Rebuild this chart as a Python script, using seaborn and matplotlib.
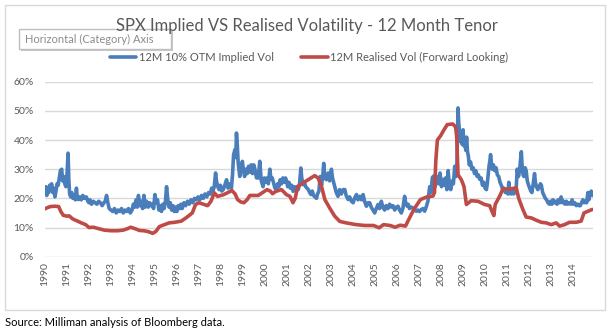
import matplotlib
matplotlib.use("Agg")
import matplotlib.pyplot as plt
import matplotlib.patches as mpatches
from matplotlib.lines import Line2D
import seaborn as sns
import pandas as pd

# ---------------- data ----------------
TITLE = "SPX Implied VS Realised Volatility - 12 Month Tenor"
implied_name = "12M 10% OTM Implied Vol"
realised_name = "12M Realised Vol (Forward Looking)"
year_ticks = list(range(1990, 2015))

implied_t = [
    1990.00, 1990.04, 1990.08, 1990.12, 1990.17, 1990.21, 1990.25, 1990.30, 1990.35, 1990.40,
    1990.45, 1990.50, 1990.55, 1990.60, 1990.65, 1990.70, 1990.76, 1990.80, 1990.85, 1990.90,
    1990.95, 1991.00, 1991.05, 1991.08, 1991.12, 1991.17, 1991.22, 1991.27, 1991.33, 1991.38,
    1991.43, 1991.47, 1991.52, 1991.58, 1991.65, 1991.72, 1991.80, 1991.88, 1991.95, 1992.00,
    1992.05, 1992.12, 1992.20, 1992.28, 1992.36, 1992.44, 1992.52, 1992.60, 1992.68, 1992.74,
    1992.80, 1992.86, 1992.92, 1993.00, 1993.08, 1993.16, 1993.24, 1993.32, 1993.40, 1993.48,
    1993.56, 1993.64, 1993.72, 1993.80, 1993.88, 1993.96, 1994.02, 1994.08, 1994.14, 1994.20,
    1994.25, 1994.32, 1994.38, 1994.44, 1994.50, 1994.56, 1994.62, 1994.70, 1994.76, 1994.82,
    1994.88, 1994.94, 1995.00, 1995.06, 1995.12, 1995.18, 1995.24, 1995.30, 1995.36, 1995.42,
    1995.48, 1995.53, 1995.58, 1995.64, 1995.70, 1995.76, 1995.82, 1995.88, 1995.94, 1996.00,
    1996.06, 1996.12, 1996.18, 1996.24, 1996.32, 1996.40, 1996.48, 1996.56, 1996.64, 1996.72,
    1996.80, 1996.88, 1996.96, 1997.04, 1997.12, 1997.20, 1997.28, 1997.36, 1997.44, 1997.52,
    1997.58, 1997.64, 1997.70, 1997.76, 1997.80, 1997.86, 1997.92, 1997.98, 1998.04, 1998.11,
    1998.18, 1998.26, 1998.33, 1998.41, 1998.48, 1998.53, 1998.58, 1998.64, 1998.68, 1998.71,
    1998.75, 1998.79, 1998.86, 1998.92, 1998.98, 1999.02, 1999.08, 1999.14, 1999.20, 1999.26,
    1999.32, 1999.38, 1999.44, 1999.50, 1999.55, 1999.62, 1999.70, 1999.77, 1999.84, 1999.92,
    1999.98, 2000.04, 2000.10, 2000.16, 2000.23, 2000.28, 2000.34, 2000.40, 2000.46, 2000.53,
    2000.58, 2000.64, 2000.70, 2000.76, 2000.82, 2000.88, 2000.94, 2000.99, 2001.04, 2001.10,
    2001.16, 2001.22, 2001.29, 2001.34, 2001.40, 2001.46, 2001.52, 2001.58, 2001.64, 2001.68,
    2001.74, 2001.80, 2001.86, 2001.92, 2001.98, 2002.04, 2002.10, 2002.16, 2002.22, 2002.28,
    2002.35, 2002.40, 2002.46, 2002.52, 2002.58, 2002.64, 2002.68, 2002.73, 2002.80, 2002.88,
    2002.95, 2003.03, 2003.08, 2003.13, 2003.18, 2003.25, 2003.33, 2003.40, 2003.48, 2003.56,
    2003.64, 2003.70, 2003.79, 2003.86, 2003.94, 2004.02, 2004.08, 2004.17, 2004.24, 2004.32,
    2004.40, 2004.47, 2004.54, 2004.62, 2004.70, 2004.77, 2004.84, 2004.92, 2005.00, 2005.07,
    2005.15, 2005.22, 2005.30, 2005.37, 2005.45, 2005.52, 2005.60, 2005.68, 2005.75, 2005.83,
    2005.91, 2005.98, 2006.06, 2006.13, 2006.21, 2006.28, 2006.36, 2006.42, 2006.48, 2006.52,
    2006.58, 2006.66, 2006.74, 2006.82, 2006.89, 2006.96, 2007.04, 2007.12, 2007.20, 2007.27,
    2007.34, 2007.42, 2007.50, 2007.56, 2007.62, 2007.67, 2007.74, 2007.80, 2007.86, 2007.92,
    2007.97, 2008.04, 2008.10, 2008.16, 2008.22, 2008.28, 2008.34, 2008.40, 2008.46, 2008.52,
    2008.58, 2008.64, 2008.70, 2008.74, 2008.77, 2008.79, 2008.82, 2008.86, 2008.90, 2008.94,
    2008.98, 2009.02, 2009.06, 2009.10, 2009.14, 2009.18, 2009.22, 2009.26, 2009.30, 2009.36,
    2009.42, 2009.48, 2009.54, 2009.60, 2009.66, 2009.72, 2009.78, 2009.84, 2009.90, 2009.96,
    2010.02, 2010.08, 2010.12, 2010.16, 2010.20, 2010.24, 2010.27, 2010.31, 2010.35, 2010.40,
    2010.46, 2010.52, 2010.58, 2010.64, 2010.70, 2010.76, 2010.82, 2010.88, 2010.94, 2011.00,
    2011.06, 2011.10, 2011.14, 2011.20, 2011.26, 2011.32, 2011.38, 2011.44, 2011.48, 2011.54,
    2011.59, 2011.63, 2011.67, 2011.71, 2011.75, 2011.79, 2011.84, 2011.89, 2011.94, 2012.00,
    2012.05, 2012.10, 2012.15, 2012.21, 2012.27, 2012.31, 2012.36, 2012.42, 2012.48, 2012.54,
    2012.58, 2012.64, 2012.70, 2012.76, 2012.82, 2012.88, 2012.95, 2013.00, 2013.06, 2013.11,
    2013.17, 2013.23, 2013.29, 2013.35, 2013.41, 2013.48, 2013.54, 2013.60, 2013.66, 2013.72,
    2013.78, 2013.86, 2013.92, 2013.98, 2014.04, 2014.10, 2014.17, 2014.23, 2014.29, 2014.35,
    2014.41, 2014.47, 2014.53, 2014.59, 2014.64, 2014.70, 2014.74, 2014.79, 2014.85, 2014.90,
]
implied_vol = [
    22.0, 24.0, 21.0, 23.5, 22.0, 24.5, 23.0, 25.0, 22.0, 23.5,
    20.5, 22.5, 25.0, 24.5, 27.0, 29.5, 30.0, 26.0, 27.5, 25.0,
    24.0, 28.0, 35.5, 27.0, 21.5, 20.5, 22.0, 20.0, 21.0, 19.5,
    23.5, 20.0, 19.6, 20.5, 19.5, 21.0, 20.0, 20.5, 19.0, 18.5,
    19.5, 18.0, 19.0, 18.5, 18.0, 19.0, 18.5, 17.5, 18.5, 19.0,
    21.0, 18.5, 16.5, 16.0, 15.5, 16.5, 15.0, 16.0, 15.5, 16.5,
    15.0, 16.0, 15.5, 16.5, 15.0, 16.0, 18.0, 17.0, 19.5, 17.0,
    21.0, 17.5, 19.0, 16.5, 21.0, 17.0, 19.0, 17.0, 18.5, 17.5,
    18.0, 16.5, 21.3, 18.5, 19.5, 16.0, 17.5, 15.5, 18.0, 16.5,
    19.0, 24.0, 20.0, 17.0, 18.5, 16.0, 17.5, 15.5, 17.0, 15.5,
    17.5, 16.5, 18.0, 16.5, 18.5, 17.5, 19.0, 18.0, 19.5, 18.5,
    20.0, 19.5, 20.5, 19.5, 21.0, 20.0, 21.5, 20.5, 22.0, 21.5,
    23.5, 22.5, 24.0, 28.7, 26.0, 24.0, 23.0, 24.5, 22.5, 23.0,
    24.5, 26.4, 23.5, 25.0, 23.5, 28.0, 35.0, 36.7, 34.0, 42.4,
    38.0, 32.0, 27.5, 30.5, 32.7, 30.0, 27.5, 30.0, 28.5, 31.0,
    29.0, 31.5, 28.5, 31.5, 30.0, 27.0, 27.0, 32.7, 26.0, 24.0,
    27.0, 25.5, 27.0, 25.0, 30.0, 26.5, 27.0, 25.3, 23.5, 23.0,
    25.0, 24.0, 26.4, 25.0, 27.0, 25.5, 27.0, 26.0, 24.0, 25.5,
    23.5, 24.5, 22.4, 24.0, 23.0, 24.0, 23.0, 25.0, 30.4, 27.0,
    24.7, 25.5, 24.0, 23.5, 23.0, 22.0, 21.3, 22.5, 21.0, 20.5,
    20.0, 21.5, 22.5, 27.5, 24.5, 28.0, 32.0, 27.0, 26.4, 28.7,
    26.0, 30.0, 27.0, 25.5, 24.0, 22.0, 20.7, 23.0, 21.5, 23.0,
    23.0, 21.0, 19.6, 20.5, 19.0, 18.5, 20.0, 21.3, 19.5, 20.7,
    19.5, 21.3, 19.0, 17.3, 18.5, 18.5, 17.0, 16.0, 15.0, 16.5,
    17.9, 16.5, 19.0, 17.0, 16.0, 17.5, 16.5, 18.0, 17.0, 17.5,
    16.0, 17.0, 17.3, 16.0, 15.0, 16.5, 20.7, 18.0, 17.3, 18.0,
    16.5, 17.0, 16.7, 16.0, 15.6, 16.0, 15.5, 16.2, 16.5, 15.6,
    17.0, 19.0, 24.0, 22.0, 27.0, 27.6, 24.0, 25.3, 27.5, 25.0,
    28.7, 24.0, 26.5, 24.5, 27.0, 23.0, 29.5, 24.0, 23.0, 26.0,
    25.0, 31.0, 27.5, 32.0, 44.0, 51.0, 46.0, 43.0, 39.5, 42.0,
    38.5, 43.5, 38.0, 40.0, 36.5, 41.0, 36.0, 34.5, 31.5, 32.5,
    30.0, 30.5, 28.5, 29.5, 27.5, 28.0, 26.5, 27.0, 24.5, 25.5,
    23.5, 23.0, 25.0, 28.0, 31.0, 33.0, 35.0, 32.0, 30.0, 31.5,
    29.5, 30.5, 28.0, 27.5, 25.5, 24.5, 23.0, 23.5, 22.0, 22.5,
    21.5, 25.5, 22.0, 21.5, 22.5, 21.5, 22.0, 24.0, 30.0, 27.5,
    29.5, 33.0, 36.0, 30.5, 28.0, 27.5, 30.5, 29.5, 26.0, 24.5,
    23.5, 22.5, 22.0, 25.0, 28.5, 25.5, 24.0, 23.0, 24.0, 25.0,
    24.5, 22.0, 21.0, 20.0, 19.5, 18.5, 18.0, 19.0, 18.0, 19.5,
    18.5, 19.0, 18.0, 19.5, 18.5, 20.5, 18.5, 19.0, 18.0, 19.0,
    18.0, 18.5, 18.0, 19.5, 18.0, 18.5, 17.5, 18.0, 17.5, 17.5,
    18.5, 19.5, 18.5, 19.0, 18.5, 22.0, 19.5, 21.5, 22.5, 21.0,
]

realised_t = [
    1990.00, 1990.10, 1990.25, 1990.45, 1990.62, 1990.72, 1990.83, 1991.00, 1991.10, 1991.25,
    1991.45, 1991.65, 1991.85, 1992.00, 1992.20, 1992.45, 1992.70, 1993.00, 1993.30, 1993.55,
    1993.75, 1993.90, 1994.10, 1994.30, 1994.50, 1994.70, 1994.90, 1995.05, 1995.20, 1995.40,
    1995.65, 1995.90, 1996.20, 1996.45, 1996.70, 1996.78, 1996.85, 1997.00, 1997.20, 1997.40,
    1997.55, 1997.70, 1997.85, 1998.10, 1998.30, 1998.50, 1998.65, 1998.76, 1998.90, 1999.05,
    1999.20, 1999.32, 1999.70, 1999.92, 2000.10, 2000.25, 2000.35, 2000.50, 2000.76, 2000.98,
    2001.14, 2001.22, 2001.28, 2001.38, 2001.50, 2001.74, 2001.97, 2002.10, 2002.27, 2002.42,
    2002.58, 2002.73, 2002.95, 2003.18, 2003.41, 2003.70, 2004.15, 2004.55, 2004.95, 2005.20,
    2005.40, 2005.70, 2005.93, 2006.15, 2006.40, 2006.55, 2006.78, 2007.08, 2007.38, 2007.65,
    2007.72, 2007.78, 2007.85, 2008.00, 2008.15, 2008.30, 2008.55, 2008.68, 2008.73, 2008.79,
    2008.94, 2009.06, 2009.17, 2009.39, 2009.70, 2010.00, 2010.23, 2010.33, 2010.42, 2010.48,
    2010.68, 2010.83, 2011.14, 2011.44, 2011.55, 2011.74, 2011.89, 2012.12, 2012.35, 2012.58,
    2012.80, 2013.03, 2013.26, 2013.41, 2013.64, 2013.86, 2014.17, 2014.39, 2014.52, 2014.70,
    2014.90,
]
realised_vol = [
    16.4, 16.8, 17.2, 17.3, 17.2, 15.5, 14.2, 13.9, 14.0, 13.0,
    12.3, 11.6, 11.0, 10.0, 10.1, 9.6, 9.1, 8.9, 8.9, 9.1,
    9.6, 10.1, 9.6, 9.0, 8.9, 8.6, 8.0, 8.7, 10.3, 10.9,
    11.6, 11.8, 12.2, 13.5, 15.0, 16.5, 17.9, 18.5, 18.0, 17.5,
    19.0, 21.9, 20.7, 21.2, 21.9, 22.7, 21.5, 19.6, 18.8, 18.5,
    19.6, 21.0, 21.0, 22.1, 23.0, 22.5, 21.6, 22.4, 23.0, 21.3,
    20.7, 19.5, 18.5, 20.0, 24.1, 25.3, 26.4, 27.0, 27.8, 27.0,
    24.1, 19.6, 16.7, 13.9, 12.1, 11.6, 11.0, 10.7, 10.7, 9.9,
    11.0, 10.7, 10.1, 10.8, 10.5, 12.8, 16.2, 19.6, 20.5, 20.8,
    22.0, 33.0, 40.0, 41.5, 43.5, 45.3, 45.5, 44.5, 41.0, 28.1,
    26.4, 24.1, 17.9, 19.2, 19.0, 17.9, 17.5, 15.6, 14.1, 17.9,
    20.7, 23.2, 23.2, 23.6, 20.0, 16.2, 13.6, 13.3, 12.5, 11.8,
    11.6, 11.0, 11.6, 10.5, 11.0, 11.8, 11.8, 12.2, 15.0, 15.6,
    16.2,
]

# ---------------- build long table ----------------
df = pd.concat([
    pd.DataFrame({"year": implied_t, "vol": implied_vol, "series": implied_name}),
    pd.DataFrame({"year": realised_t, "vol": realised_vol, "series": realised_name}),
], ignore_index=True)

BLUE = "#4A7EBB"
RED = "#BE4B48"
GRID = "#D9D9D9"
TXT = "#595959"
FONT = ["Lato", "DejaVu Sans"]

sns.set_theme(style="white")
plt.rcParams["font.family"] = FONT

W, H = 611, 330
fig = plt.figure(figsize=(W / 100, H / 100), dpi=100)

# axes in pixel terms
x0, x1 = 45, 593
y_top, y_bot = 81.7, 256.7
ax = fig.add_axes([x0 / W, 1 - y_bot / H, (x1 - x0) / W, (y_bot - y_top) / H])

sns.lineplot(data=df, x="year", y="vol", hue="series",
             palette={implied_name: BLUE, realised_name: RED},
             estimator=None, sort=False, linewidth=2.6, ax=ax, legend=False)

ax.set_xlim(1990, 2014.93)
ax.set_ylim(0, 60)
ax.set_yticks([0, 10, 20, 30, 40, 50, 60])
ax.set_yticklabels([f"{v}%" for v in [0, 10, 20, 30, 40, 50, 60]])
ax.set_xticks(year_ticks)
ax.set_xticklabels([str(y) for y in year_ticks], rotation=90)
ax.set_xlabel("")
ax.set_ylabel("")
ax.grid(axis="y", color=GRID, linewidth=1)
ax.grid(axis="x", visible=False)
ax.set_axisbelow(True)
for s in ["left", "right", "top", "bottom"]:
    ax.spines[s].set_visible(False)
ax.tick_params(axis="y", length=0, pad=8, labelsize=7.5, labelcolor=TXT)
ax.tick_params(axis="x", length=0, pad=4, labelsize=7.5, labelcolor=TXT)

# chart border
fig.patches.append(mpatches.Rectangle((5 / W, 1 - 310 / H), 600 / W, 305 / H,
                                      transform=fig.transFigure, fill=False,
                                      edgecolor=GRID, linewidth=1))

# title
fig.text(307 / W, 1 - 26 / H, TITLE, ha="center", va="center",
         fontsize=12.0, color=TXT)

# legend
handles = [Line2D([], [], color=BLUE, linewidth=2.6),
           Line2D([], [], color=RED, linewidth=2.6)]
fig.legend(handles, [implied_name, realised_name], loc="center",
           bbox_to_anchor=(309 / W, 1 - 57 / H), ncol=2, frameon=False,
           fontsize=8, handlelength=2.4, handletextpad=0.2,
           columnspacing=2.5, labelcolor=TXT)

# tooltip box "Horizontal (Category) Axis"
fig.patches.append(mpatches.Rectangle((21 / W, 1 - 51 / H), 152 / W, 20 / H,
                                      transform=fig.transFigure,
                                      facecolor="#C8C8C8", edgecolor="none"))
fig.patches.append(mpatches.Rectangle((19 / W, 1 - 49 / H), 152 / W, 20 / H,
                                      transform=fig.transFigure,
                                      facecolor="white", edgecolor="#BFBFBF",
                                      linewidth=1))
fig.text(25 / W, 1 - 39 / H, "Horizontal (Category) Axis", ha="left",
         va="center", fontsize=8, color="#8C8C8C")

# source
fig.text(5 / W, 1 - 322 / H, "Source: Milliman analysis of Bloomberg data.",
         ha="left", va="center", fontsize=8, color="black")

fig.savefig("out.png", dpi=100)
